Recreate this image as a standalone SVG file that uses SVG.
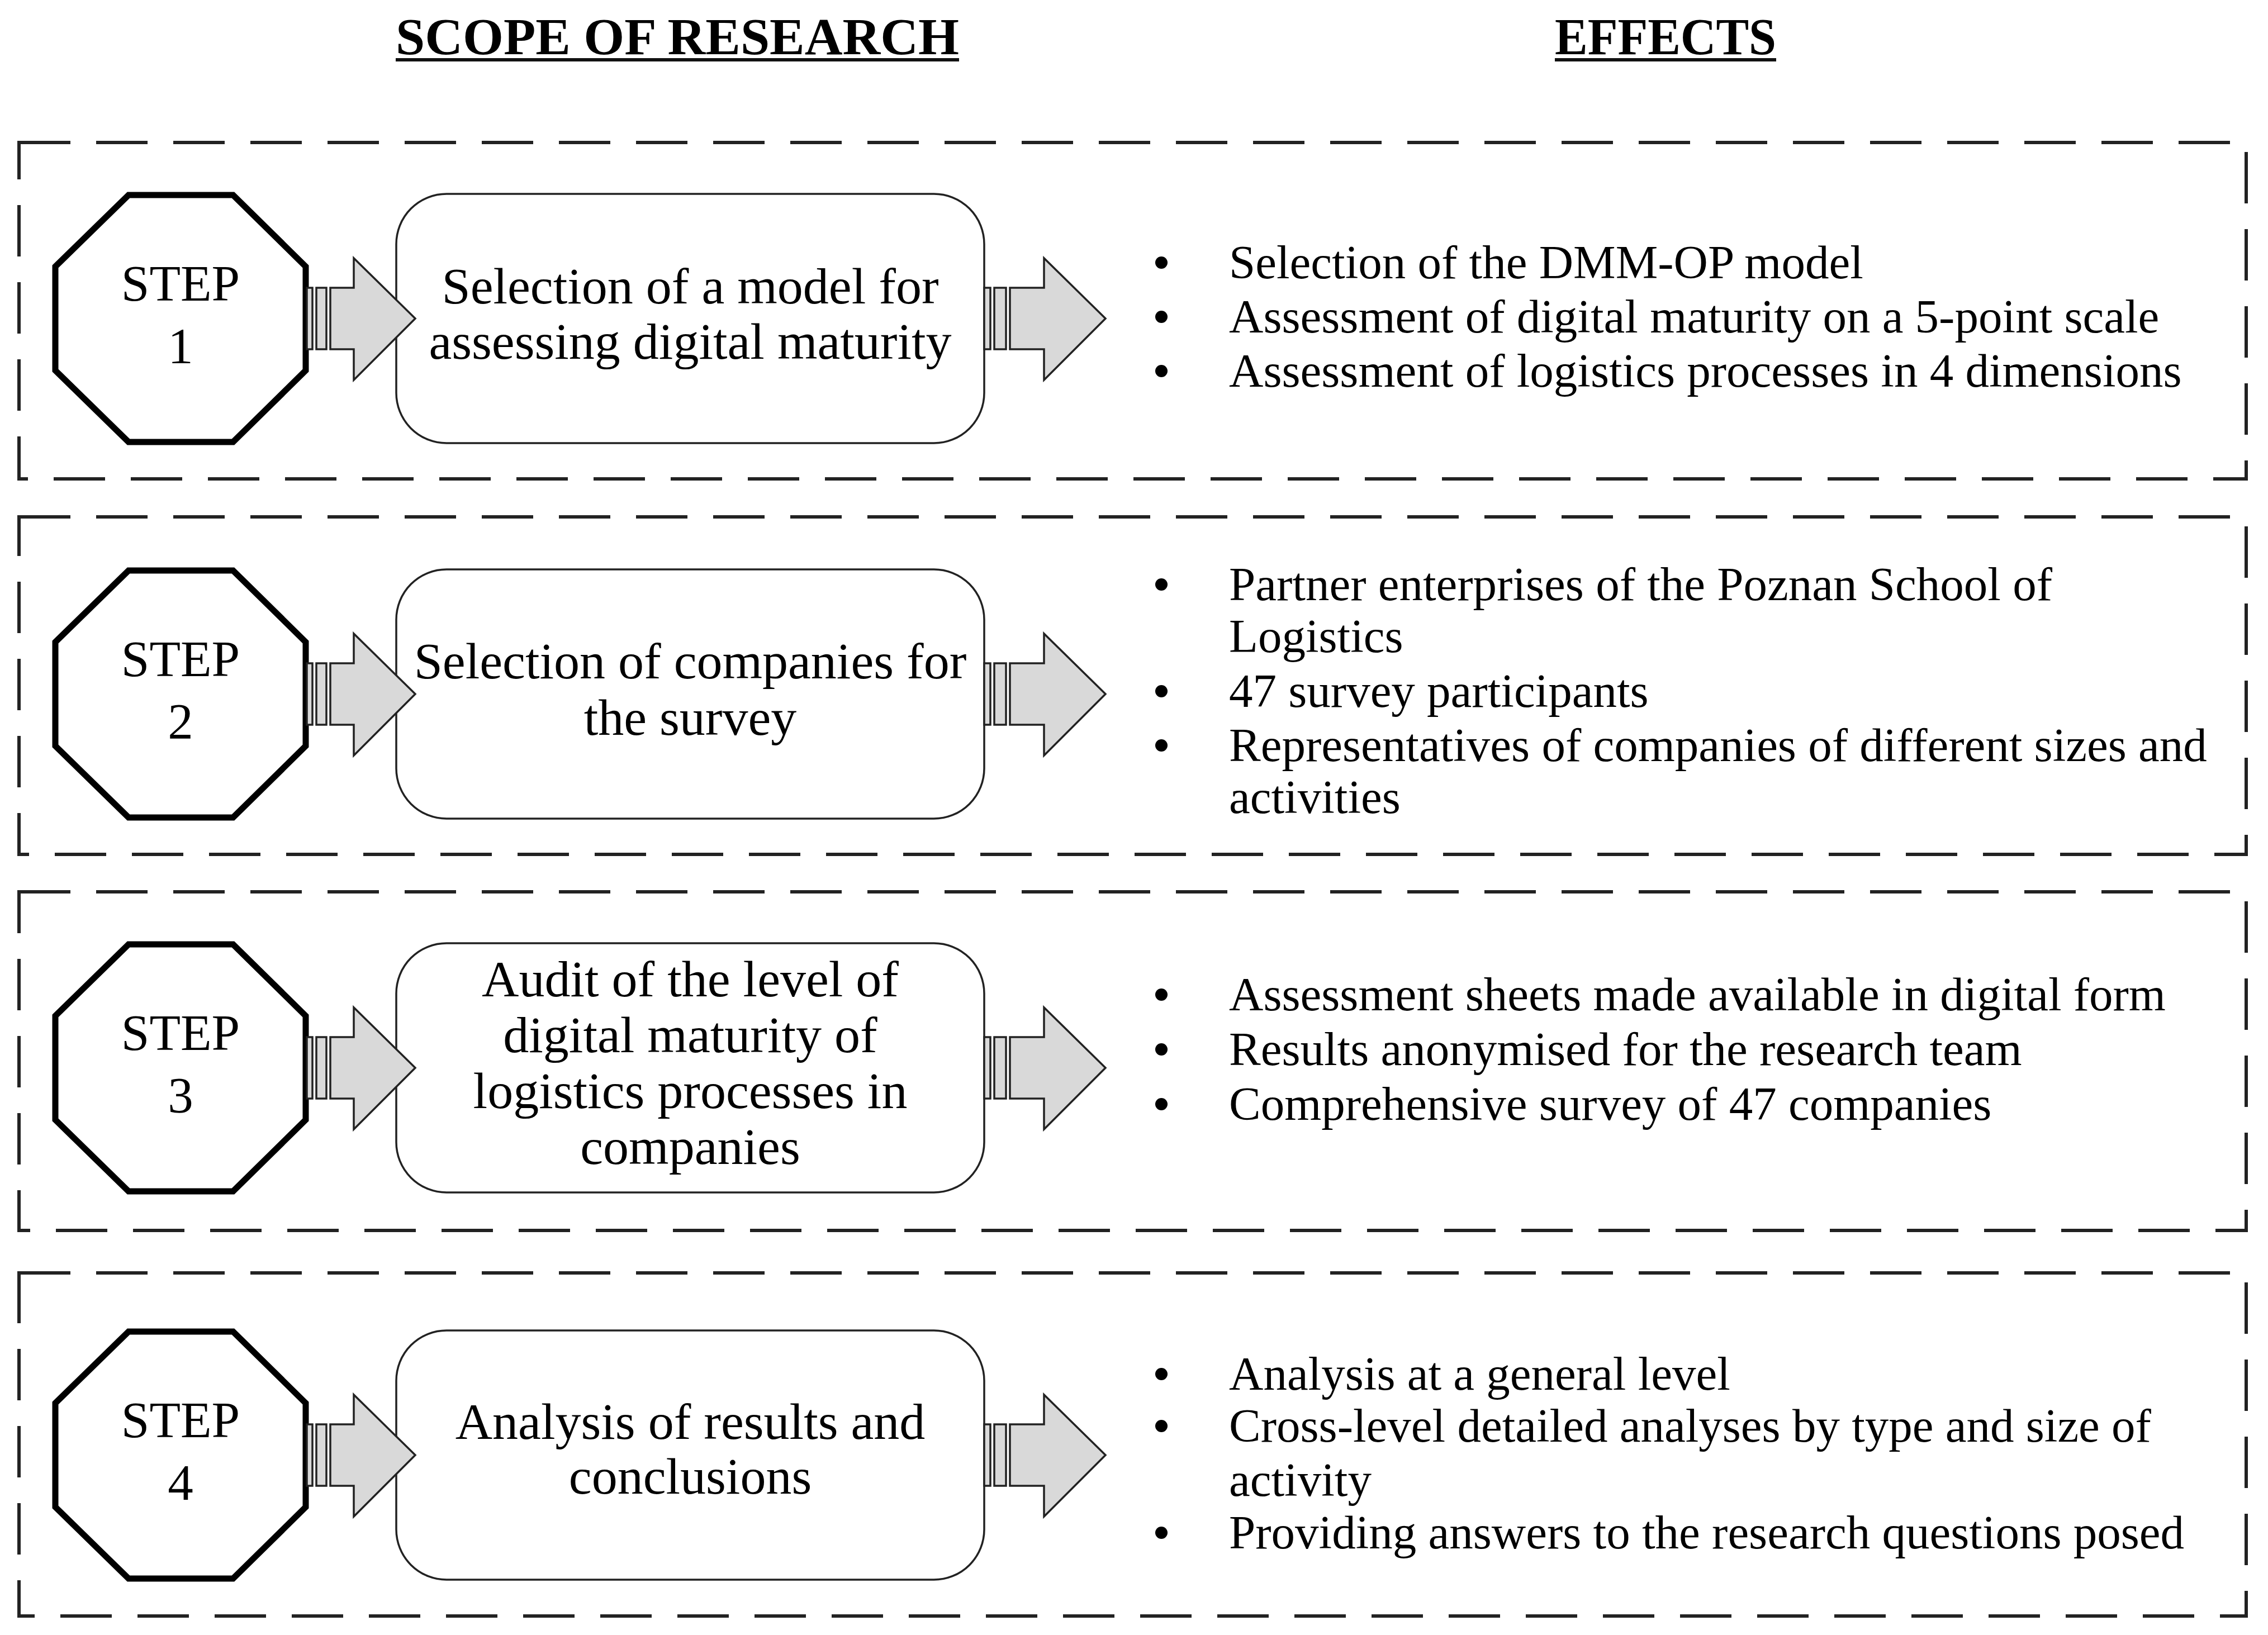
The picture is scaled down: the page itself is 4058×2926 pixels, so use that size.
<svg xmlns="http://www.w3.org/2000/svg" width="4058" height="2926" viewBox="0 0 4058 2926">
<style>
.hdr{font-family:"Liberation Serif","Times New Roman",serif;font-weight:bold;font-size:93px;fill:#000;text-anchor:middle}
.ul{stroke:#111;stroke-width:6}
.frame{fill:none;stroke:#222;stroke-width:6;stroke-dasharray:92 46}
.oct{fill:#fff;stroke:#000;stroke-width:11;stroke-linejoin:miter}
.box{fill:#fff;stroke:#222;stroke-width:3.5}
.arr{fill:#d9d9d9;stroke:#222;stroke-width:3.5;stroke-linejoin:miter}
.step{font-family:"Liberation Serif","Times New Roman",serif;font-size:91px;fill:#000;text-anchor:middle}
.btxt{font-family:"Liberation Serif","Times New Roman",serif;font-size:92px;fill:#000;text-anchor:middle}
.eff{font-family:"Liberation Serif","Times New Roman",serif;font-size:85px;fill:#000}
.dot{fill:#000}
</style>
<rect width="4058" height="2926" fill="#fff"/>

<g id="headers">
<text class="hdr" x="1212" y="97" textLength="1008" lengthAdjust="spacingAndGlyphs">SCOPE OF RESEARCH</text>
<line class="ul" x1="708" y1="107" x2="1716" y2="107"/>
<text class="hdr" x="2980" y="97" textLength="396" lengthAdjust="spacingAndGlyphs">EFFECTS</text>
<line class="ul" x1="2782" y1="107" x2="3178" y2="107"/>
</g>

<g id="frames">
<rect class="frame" x="34" y="255" width="3985" height="602"/>
<rect class="frame" x="34" y="925" width="3985" height="604"/>
<rect class="frame" x="34" y="1596" width="3985" height="606"/>
<rect class="frame" x="34" y="2278" width="3985" height="614"/>
</g>

<g id="step1">
<polygon class="oct" points="99,477 230,349 417,349 547,477 547,663 417,791 230,791 99,663"/>
<text class="step" x="323" y="538">STEP</text>
<text class="step" x="323" y="650">1</text>
</g>
<g id="process1">
<rect class="box" x="709" y="347" width="1052" height="446" rx="90" ry="90"/>
<text class="btxt" x="1235" y="543">Selection of a model for</text>
<text class="btxt" x="1235" y="642">assessing digital maturity</text>
</g>
<g id="effects1">
<circle class="dot" cx="2078" cy="470" r="11"/>
<circle class="dot" cx="2078" cy="567" r="11"/>
<circle class="dot" cx="2078" cy="664" r="11"/>
<text class="eff" x="2199" y="498">Selection of the DMM-OP model</text>
<text class="eff" x="2199" y="595">Assessment of digital maturity on a 5-point scale</text>
<text class="eff" x="2199" y="692">Assessment of logistics processes in 4 dimensions</text>
</g>

<g id="step2">
<polygon class="oct" points="99,1149 230,1021 417,1021 547,1149 547,1335 417,1463 230,1463 99,1335"/>
<text class="step" x="323" y="1210">STEP</text>
<text class="step" x="323" y="1322">2</text>
</g>
<g id="process2">
<rect class="box" x="709" y="1019" width="1052" height="446" rx="90" ry="90"/>
<text class="btxt" x="1235" y="1214">Selection of companies for</text>
<text class="btxt" x="1235" y="1315">the survey</text>
</g>
<g id="effects2">
<circle class="dot" cx="2078" cy="1046" r="11"/>
<circle class="dot" cx="2078" cy="1237" r="11"/>
<circle class="dot" cx="2078" cy="1334" r="11"/>
<text class="eff" x="2199" y="1074">Partner enterprises of the Poznan School of</text>
<text class="eff" x="2199" y="1167">Logistics</text>
<text class="eff" x="2199" y="1265">47 survey participants</text>
<text class="eff" x="2199" y="1362">Representatives of companies of different sizes and</text>
<text class="eff" x="2199" y="1455">activities</text>
</g>

<g id="step3">
<polygon class="oct" points="99,1818 230,1690 417,1690 547,1818 547,2004 417,2132 230,2132 99,2004"/>
<text class="step" x="323" y="1879">STEP</text>
<text class="step" x="323" y="1991">3</text>
</g>
<g id="process3">
<rect class="box" x="709" y="1688" width="1052" height="446" rx="90" ry="90"/>
<text class="btxt" x="1235" y="1783">Audit of the level of</text>
<text class="btxt" x="1235" y="1883">digital maturity of</text>
<text class="btxt" x="1235" y="1983">logistics processes in</text>
<text class="btxt" x="1235" y="2083">companies</text>
</g>
<g id="effects3">
<circle class="dot" cx="2078" cy="1780" r="11"/>
<circle class="dot" cx="2078" cy="1878" r="11"/>
<circle class="dot" cx="2078" cy="1976" r="11"/>
<text class="eff" x="2199" y="1808">Assessment sheets made available in digital form</text>
<text class="eff" x="2199" y="1906">Results anonymised for the research team</text>
<text class="eff" x="2199" y="2004">Comprehensive survey of 47 companies</text>
</g>

<g id="step4">
<polygon class="oct" points="99,2511 230,2383 417,2383 547,2511 547,2697 417,2825 230,2825 99,2697"/>
<text class="step" x="323" y="2572">STEP</text>
<text class="step" x="323" y="2684">4</text>
</g>
<g id="process4">
<rect class="box" x="709" y="2381" width="1052" height="446" rx="90" ry="90"/>
<text class="btxt" x="1235" y="2575">Analysis of results and</text>
<text class="btxt" x="1235" y="2673">conclusions</text>
</g>
<g id="effects4">
<circle class="dot" cx="2078" cy="2459" r="11"/>
<circle class="dot" cx="2078" cy="2552" r="11"/>
<circle class="dot" cx="2078" cy="2743" r="11"/>
<text class="eff" x="2199" y="2487">Analysis at a general level</text>
<text class="eff" x="2199" y="2580">Cross-level detailed analyses by type and size of</text>
<text class="eff" x="2199" y="2677">activity</text>
<text class="eff" x="2199" y="2771">Providing answers to the research questions posed</text>
</g>

<defs>
<g id="arrL">
<rect class="arr" x="549" y="-55" width="10" height="110"/>
<rect class="arr" x="566" y="-55" width="18" height="110"/>
<path class="arr" d="M591,-55 H633 V-108 L743,0 L633,110 V55 H591 Z"/>
</g>
<g id="arrR">
<rect class="arr" x="1761" y="-55" width="11" height="110"/>
<rect class="arr" x="1779" y="-55" width="21" height="110"/>
<path class="arr" d="M1807,-55 H1868 V-108 L1978,0 L1868,110 V55 H1807 Z"/>
</g>
</defs>

<g id="connectors">
<use href="#arrL" transform="translate(0,570)"/>
<use href="#arrR" transform="translate(0,570)"/>
<use href="#arrL" transform="translate(0,1242)"/>
<use href="#arrR" transform="translate(0,1242)"/>
<use href="#arrL" transform="translate(0,1911)"/>
<use href="#arrR" transform="translate(0,1911)"/>
<use href="#arrL" transform="translate(0,2604)"/>
<use href="#arrR" transform="translate(0,2604)"/>
</g>
</svg>
